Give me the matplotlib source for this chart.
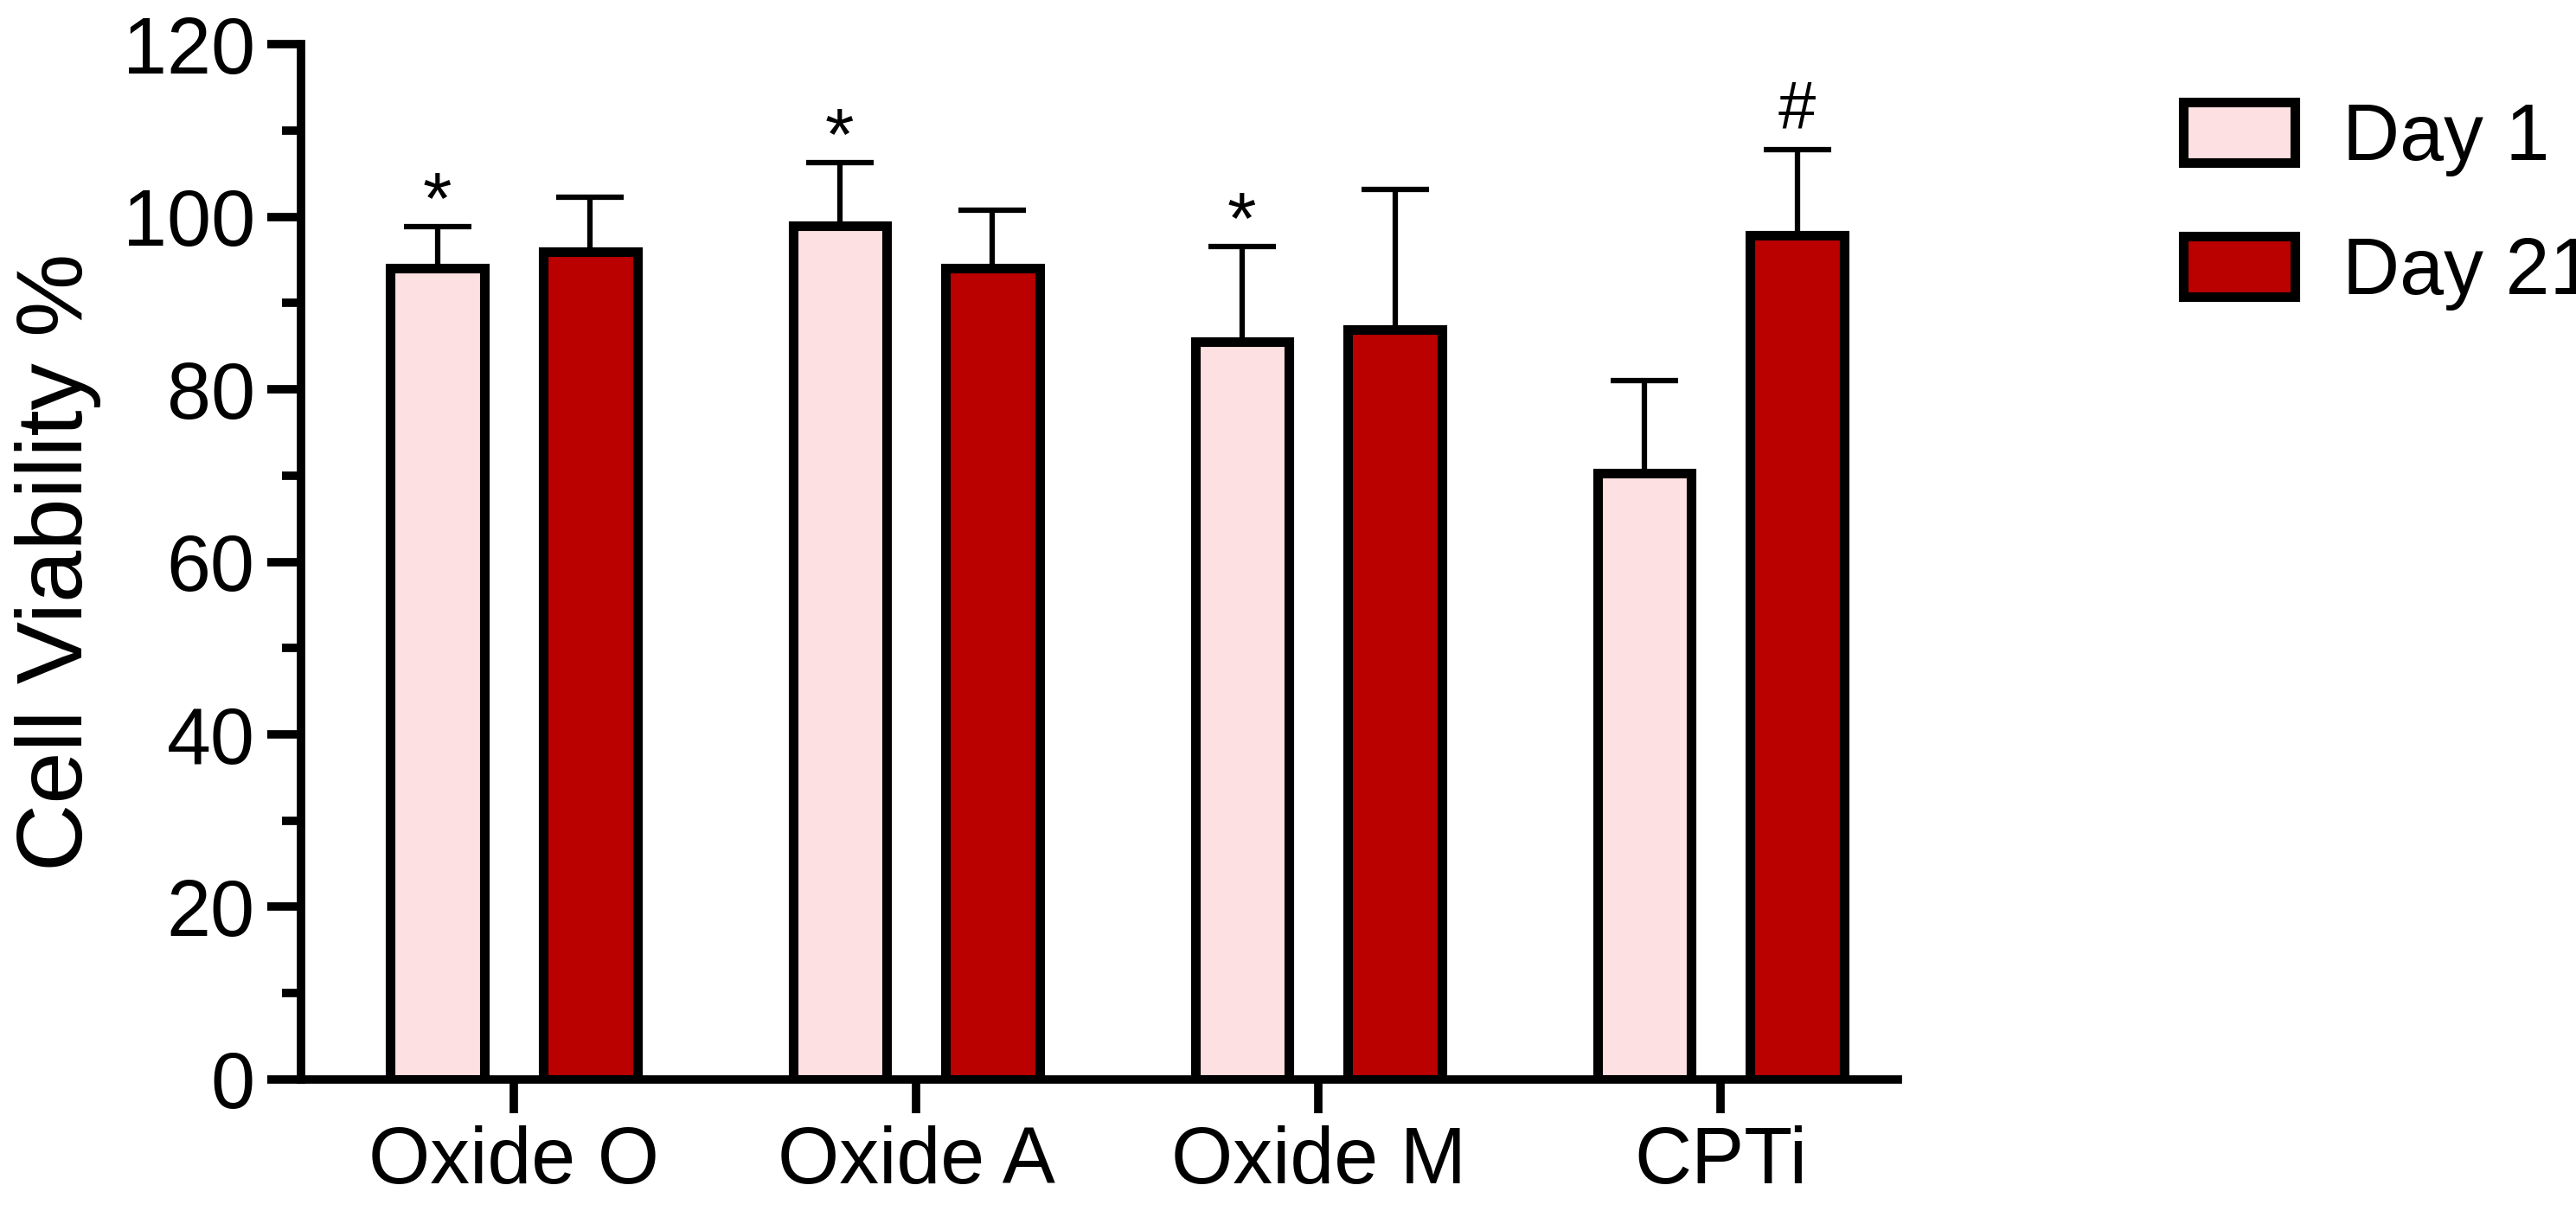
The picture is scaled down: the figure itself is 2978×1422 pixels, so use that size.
import matplotlib
matplotlib.use("Agg")
import matplotlib.pyplot as plt
import numpy as np
from matplotlib.patches import Patch
from matplotlib.ticker import MultipleLocator

groups = ["Oxide O", "Oxide A", "Oxide M", "CPTi"]
day1 = [94.0, 99.0, 85.5, 70.3]
day1_err = [4.9, 7.3, 11.1, 10.7]
day21 = [96.0, 94.0, 86.9, 97.9]
day21_err = [6.3, 6.8, 16.3, 9.9]
marks1 = ["*", "*", "*", ""]
marks21 = ["", "", "", "#"]

plt.rcParams['font.family'] = ['Liberation Sans', 'DejaVu Sans']
fig = plt.figure(figsize=(29.78, 14.22), dpi=100)
ax = fig.add_axes([0.1167, 0.1224, 0.62, 0.8416])
x = np.arange(len(groups))
w = 0.233
off = 0.19
lw = 8
c1, c21 = "#fde0e2", "#bb0000"
ax.bar(x - off, day1, w, color=c1, edgecolor="black", linewidth=lw, zorder=3)
ax.bar(x + off, day21, w, color=c21, edgecolor="black", linewidth=lw, zorder=3)
ax.errorbar(x - off, day1, yerr=[np.zeros(4), day1_err], fmt="none", ecolor="black",
            elinewidth=4.5, capsize=28, capthick=4.5, zorder=2)
ax.errorbar(x + off, day21, yerr=[np.zeros(4), day21_err], fmt="none", ecolor="black",
            elinewidth=4.5, capsize=28, capthick=4.5, zorder=2)
for i in range(4):
    if marks1[i]:
        ax.text(x[i] - off, day1[i] + day1_err[i] - 1.5, marks1[i], ha="center", va="bottom", fontsize=62)
    if marks21[i]:
        ax.text(x[i] + off, day21[i] + day21_err[i] + 0.8, marks21[i], ha="center", va="bottom", fontsize=56)

ax.set_xlim(-0.53, 3.44)
ax.set_ylim(0, 120)
ax.yaxis.set_major_locator(MultipleLocator(20))
ax.yaxis.set_minor_locator(MultipleLocator(10))
ax.set_xticks(x)
ax.set_xticklabels(groups)
for s in ["top", "right"]:
    ax.spines[s].set_visible(False)
for s in ["left", "bottom"]:
    ax.spines[s].set_linewidth(7)
ax.tick_params(axis="both", which="major", length=28, width=7, labelsize=66, direction="out", pad=10)
ax.tick_params(axis="y", which="minor", length=16, width=7)
ax.set_ylabel("Cell Viability %", fontsize=78, labelpad=18)

handles = [Patch(facecolor=c1, edgecolor="black", linewidth=lw, label="Day 1"),
           Patch(facecolor=c21, edgecolor="black", linewidth=lw, label="Day 21")]
fig.legend(handles=handles, loc="upper left", bbox_to_anchor=(0.82, 0.975), frameon=False,
           fontsize=66, handlelength=1.4, handleheight=0.8, labelspacing=0.75, handletextpad=0.6)
fig.savefig("out.png", dpi=100)
